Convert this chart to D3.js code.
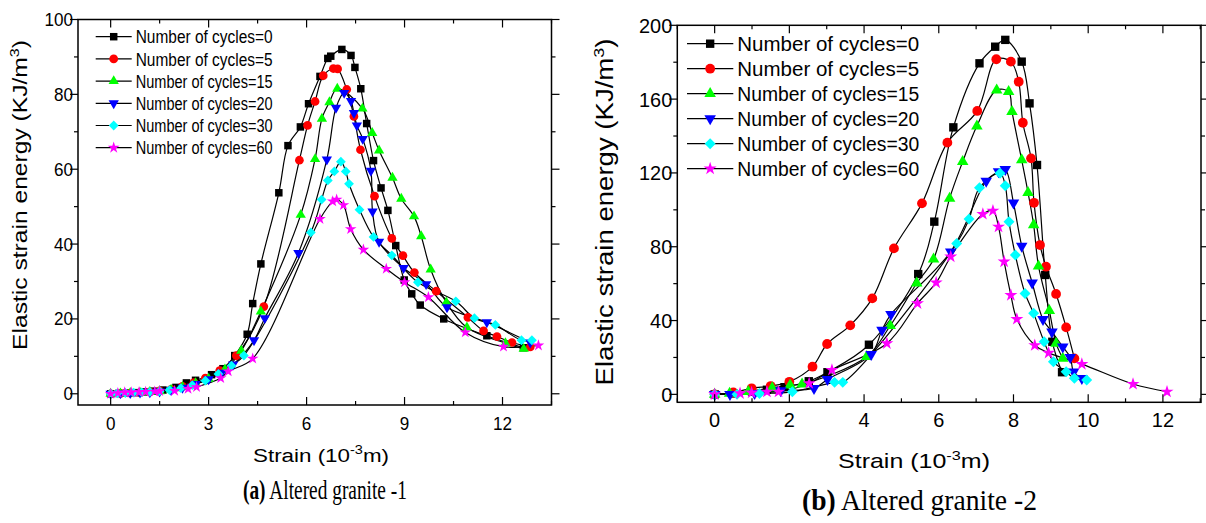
<!DOCTYPE html>
<html>
<head>
<meta charset="utf-8">
<script src="https://cdn.jsdelivr.net/npm/d3@7"></script>
<style>
  body { margin: 0; background: #fff; }
  svg { display: block; }
  text { font-family: Arial, "Liberation Sans", sans-serif; fill: #000; }
  .caption { font-family: "Times New Roman", "Liberation Serif", serif; }
</style>
</head>
<body>
<div id="chart"></div>
<script>
// Legend entries and marker colours (one per number of freeze-thaw cycles)
const cycleLabels = ["Number of cycles=0", "Number of cycles=5", "Number of cycles=15",
                     "Number of cycles=20", "Number of cycles=30", "Number of cycles=60"];
const cycleColors = ["#000000", "#ff0000", "#00ff00", "#0000ff", "#00ffff", "#ff00ff"];

// Tick values
const ticksA = { x: [0, 3, 6, 9, 12], xMinor: [-1.5, 1.5, 4.5, 7.5, 10.5, 13.5], y: [0, 20, 40, 60, 80, 100], yMinor: [10, 30, 50, 70, 90] };
const ticksB = { x: [0, 2, 4, 6, 8, 10, 12], xMinor: [-1, 1, 3, 5, 7, 9, 11, 13], y: [0, 40, 80, 120, 160, 200], yMinor: [20, 60, 100, 140, 180] };

// (a) Altered granite -1 : [strain (10^-3), elastic strain energy (kJ/m3)]
const a0 = [[0,0],[0.25,0.1],[0.5,0.2],[0.75,0.3],[1.0,0.5],[1.3,0.7],[1.6,1.0],[2.0,1.7],[2.32,2.9],[2.6,3.6],[3.09,5.1],[3.44,6.7],[3.8,10.2],[4.18,15.9],[4.35,24.1],[4.6,34.7],[5.15,53.7],[5.43,66.3],[5.81,71.3],[6.06,77.5],[6.41,84.8],[6.65,89.6],[6.74,90.2],[7.08,92.0],[7.36,90.4],[7.48,87.2],[7.66,81.5],[7.84,72.2],[8.05,62.3],[8.28,55.0],[8.49,49.0],[8.73,39.6],[8.99,30.4],[9.22,26.7],[9.48,23.7],[10.2,20.0],[11.52,15.5],[12.64,12.3]];
const a5c = [[0,0],[0.3,0.1],[0.6,0.2],[0.9,0.3],[1.2,0.5],[1.5,0.8],[1.85,1.2],[2.2,2.0],[2.55,3.0],[2.9,4.2],[3.34,6.2],[3.85,10.2],[4.69,23.3],[5.78,62.4],[6.03,71.7],[6.26,78.1],[6.51,85.0],[6.82,86.9],[6.95,86.8],[7.23,81.3],[7.45,74.1],[7.65,65.2],[8.08,52.8],[8.61,41.5],[8.95,36.9],[9.3,32.4],[9.97,27.4],[10.94,20.4],[11.42,16.8],[11.83,15.3],[12.29,13.7],[12.85,12.5]];
const a15 = [[0,0],[0.3,0.1],[0.6,0.2],[0.9,0.3],[1.2,0.5],[1.5,0.7],[1.85,1.1],[2.2,1.8],[2.6,2.8],[3.0,4.0],[3.5,6.5],[4.0,11.5],[4.6,22.0],[5.82,47.8],[6.26,62.7],[6.47,73.5],[6.7,77.9],[6.94,81.5],[7.71,76.2],[8.01,69.7],[8.22,65.0],[8.63,57.7],[8.9,52.1],[9.29,47.4],[9.51,42.1],[9.8,33.2],[10.28,24.4],[10.91,17.7],[12.09,13.5],[12.65,12.0]];
const a20 = [[0,0],[0.3,0.1],[0.6,0.2],[0.9,0.3],[1.2,0.4],[1.5,0.6],[1.85,1.0],[2.2,1.6],[2.6,2.6],[3.0,3.9],[3.4,5.6],[3.75,7.8],[4.39,14.3],[4.72,20.2],[5.75,37.6],[6.62,62.6],[6.9,76.4],[7.15,80.4],[7.36,78.2],[7.45,75.0],[7.54,71.7],[7.72,68.1],[7.97,59.6],[8.02,48.7],[8.22,40.6],[8.97,33.6],[9.66,29.3],[10.3,23.1],[11.52,19.1],[12.85,13.7]];
const a30 = [[0,0],[0.2,0.1],[0.45,0.2],[0.7,0.3],[0.95,0.4],[1.2,0.5],[1.5,0.7],[1.8,1.0],[2.15,1.5],[2.5,2.3],[2.9,3.5],[3.3,5.3],[3.7,7.5],[4.08,10.2],[6.13,43.1],[6.46,51.9],[6.65,57.0],[6.85,59.4],[7.05,62.0],[7.2,59.4],[7.3,56.1],[7.62,49.2],[8.05,41.9],[8.61,37.0],[9.41,29.8],[10.57,24.7],[11.14,20.2],[11.78,18.4],[12.58,14.3],[12.9,14.3]];
const a60 = [[0,0],[0.22,0.2],[0.43,0.35],[0.63,0.35],[0.87,0.45],[1.07,0.5],[1.35,0.6],[1.5,0.7],[1.96,0.8],[2.37,1.3],[2.63,1.8],[3.37,4.2],[3.6,6.0],[4.35,9.4],[6.41,46.7],[6.8,51.4],[6.92,51.9],[7.13,50.4],[7.35,44.0],[7.74,38.5],[8.44,33.4],[9.0,29.8],[9.73,25.8],[10.86,16.4],[12.03,12.6],[13.1,12.9]];

// (b) Altered granite -2
const b0 = [[0,0],[0.5,0.5],[1.0,1.5],[1.4,2.5],[1.87,3.9],[2.52,7.1],[3.02,12.0],[4.13,26.9],[5.45,65.2],[5.88,93.6],[6.39,144.7],[7.09,179.4],[7.51,188.4],[7.78,192.1],[8.22,180.3],[8.43,157.7],[8.63,124.3],[8.85,64.7],[9.04,28.5],[9.3,12.0]];
const b5c = [[0,0],[0.5,1.0],[0.99,3.3],[1.5,4.5],[2.0,6.8],[2.62,15.0],[3.01,27.3],[3.63,37.4],[4.22,52.0],[4.8,79.1],[5.55,103.5],[6.23,136.4],[7.03,153.6],[7.54,181.6],[7.93,180.3],[8.14,169.4],[8.25,147.2],[8.47,127.9],[8.55,103.8],[8.71,80.9],[8.87,69.2],[9.14,54.4],[9.41,36.3],[9.63,19.5]];
const b15 = [[0,0],[0.4,0.5],[0.9,1.5],[1.54,3.5],[2.02,5.0],[2.34,5.5],[4.07,20.4],[4.7,37.2],[5.41,60.2],[5.86,73.2],[6.29,106.2],[6.64,126.1],[7.02,145.4],[7.55,164.9],[7.87,164.0],[7.96,153.2],[8.22,127.0],[8.39,109.3],[8.54,91.8],[8.67,69.5],[8.96,45.3],[9.14,27.6],[9.32,19.5]];
const b20 = [[0,0],[0.41,0.0],[1.07,0.5],[1.77,2.0],[2.66,3.3],[3.02,8.1],[4.19,21.7],[4.48,34.9],[4.72,43.4],[6.32,77.3],[7.27,115.6],[7.6,120.7],[7.78,121.9],[8.0,103.8],[8.22,80.4],[8.5,60.5],[8.79,40.6],[9.03,33.9],[9.32,25.8],[9.52,20.1],[9.61,12.2],[9.83,8.7]];
const b30 = [[0,0],[0.6,0.0],[1.2,0.5],[2.08,1.4],[3.21,6.5],[3.43,6.5],[6.48,81.8],[6.81,95.0],[7.09,112.0],[7.64,119.8],[7.78,113.1],[7.88,93.6],[8.05,75.5],[8.31,54.7],[8.54,43.9],[8.82,28.5],[9.07,17.7],[9.41,12.2],[9.63,8.7],[9.96,7.8]];
const b60 = [[0,0],[0.68,0.5],[0.99,0.9],[1.4,1.4],[1.71,1.4],[2.53,6.0],[3.14,13.2],[4.61,27.6],[5.43,49.3],[5.93,60.5],[6.32,74.6],[7.18,97.7],[7.45,99.5],[7.6,90.8],[7.75,71.9],[7.93,53.8],[8.09,40.8],[8.57,26.6],[8.94,22.5],[9.83,16.4],[11.2,5.6],[12.11,1.4]];


/*******************************/
/*    Layout of both panels    */
/*******************************/
const width = 1206;
const height = 523;

const panels = [
  { series: [a0, a5c, a15, a20, a30, a60], ticks: ticksA,
    box: { left: 78, right: 551.5, top: 19.5, bottom: 405 },
    xDomain: [-1, 13.5], yDomain: [-3, 100],
    tickFont: 18, tickSx: 0.95, markScale: 1,
    legend: { x: 95.7, y: 36.7, step: 22.2, lineLen: 36, font: 18.5, textWidth: 137 },
    yTitle: { x: 27, y: 195, font: 21, length: 310 },
    xTitle: { x: 321, y: 462, font: 19, width: 136 },
    caption: { x: 243, y: 499, font: 27, width: 164, tag: "(a)", text: " Altered granite -1" } },
  { series: [b0, b5c, b15, b20, b30, b60], ticks: ticksB,
    box: { left: 677.3, right: 1201, top: 25.3, bottom: 402.3 },
    xDomain: [-1, 13.02], yDomain: [-4.3, 200],
    tickFont: 21, tickSx: 0.95, markScale: 1.12,
    legend: { x: 687, y: 43.7, step: 25, lineLen: 46.3, font: 20, textWidth: 182 },
    yTitle: { x: 613, y: 212, font: 23, length: 347 },
    xTitle: { x: 914, y: 468, font: 21, width: 152 },
    caption: { x: 802, y: 510, font: 29, width: 235, tag: "(b)", text: " Altered granite -2" } }
];

const symbolTypes = [d3.symbolSquare, d3.symbolCircle, d3.symbolTriangle, d3.symbolTriangle, d3.symbolSquare, d3.symbolStar];
const symbolSizes = [56, 60, 46, 46, 48, 42];
const symbolRotate = [0, 0, 0, 180, 45, 0];

const svg = d3.select("#chart")
  .append("svg")
    .attr("width", width)
    .attr("height", height)
    .attr("viewBox", `0 0 ${width} ${height}`);

svg.append("rect").attr("width", width).attr("height", height).attr("fill", "#fff");

// Draw one marker of series i at (x, y)
const drawMarker = (g, i, x, y, k) => {
  g.append("path")
    .attr("d", d3.symbol().type(symbolTypes[i]).size(symbolSizes[i] * k * k)())
    .attr("transform", `translate(${x},${y}) rotate(${symbolRotate[i]})`)
    .attr("fill", cycleColors[i]);
};

// Horizontal factor that makes a text cover the width measured on the reference
const fitWidth = (text, targetWidth) => targetWidth / text.node().getComputedTextLength();

panels.forEach(p => {
  const { box } = p;
  const xScale = d3.scaleLinear().domain(p.xDomain).range([box.left, box.right]);
  const yScale = d3.scaleLinear().domain(p.yDomain).range([box.bottom, box.top]);
  const chart = svg.append("g");

  // Curves (smoothed like the original spline connection)
  const lineGenerator = d3.line()
    .x(d => xScale(d[0]))
    .y(d => yScale(d[1]))
    .curve(d3.curveCatmullRom.alpha(0.5));

  p.series.forEach(s => {
    chart.append("path")
      .attr("d", lineGenerator(s))
      .attr("fill", "none")
      .attr("stroke", "#000")
      .attr("stroke-width", 1.2);
  });

  // Markers, later cycles on top
  p.series.forEach((s, i) => {
    const g = chart.append("g");
    s.forEach(d => drawMarker(g, i, xScale(d[0]), yScale(d[1]), p.markScale));
  });

  // Frame with mirrored ticks
  const frame = chart.append("g").attr("stroke", "#000").attr("fill", "none");
  frame.append("rect")
    .attr("x", box.left).attr("y", box.top)
    .attr("width", box.right - box.left).attr("height", box.bottom - box.top)
    .attr("stroke-width", 1.5);

  const tickMarks = (values, len, inner) => {
    values.forEach(v => {
      const x = xScale(v);
      if (x < box.left - 0.5 || x > box.right + 0.5) return;
      frame.append("line").attr("x1", x).attr("x2", x).attr("y1", box.bottom - inner).attr("y2", box.bottom + len - inner);
      frame.append("line").attr("x1", x).attr("x2", x).attr("y1", box.top - len + inner).attr("y2", box.top + inner);
    });
  };
  const yTickMarks = (values, len, inner) => {
    values.forEach(v => {
      const y = yScale(v);
      frame.append("line").attr("y1", y).attr("y2", y).attr("x1", box.left - len + inner).attr("x2", box.left + inner);
      frame.append("line").attr("y1", y).attr("y2", y).attr("x1", box.right - inner).attr("x2", box.right + len - inner);
    });
  };
  tickMarks(p.ticks.x, 8, 8);
  tickMarks(p.ticks.xMinor, 4, 4);
  yTickMarks(p.ticks.y, 8, 0);
  yTickMarks(p.ticks.yMinor, 4, 0);
  frame.selectAll("line").attr("stroke-width", 1.2);

  // Tick labels
  p.ticks.x.forEach(v => {
    chart.append("g")
      .attr("transform", `translate(${xScale(v)},${box.bottom + 25}) scale(${p.tickSx},1)`)
      .append("text")
        .attr("text-anchor", "middle")
        .style("font-size", `${p.tickFont}px`)
        .text(v);
  });
  p.ticks.y.forEach(v => {
    chart.append("g")
      .attr("transform", `translate(${box.left - 5},${yScale(v) + p.tickFont * 0.36}) scale(${p.tickSx},1)`)
      .append("text")
        .attr("text-anchor", "end")
        .style("font-size", `${p.tickFont}px`)
        .text(v);
  });

  // Legend
  const L = p.legend;
  cycleLabels.forEach((label, i) => {
    const y = L.y + i * L.step;
    chart.append("line")
      .attr("x1", L.x).attr("x2", L.x + L.lineLen)
      .attr("y1", y).attr("y2", y)
      .attr("stroke", "#000").attr("stroke-width", 1.2);
    drawMarker(chart, i, L.x + L.lineLen / 2, y, p.markScale);
    const g = chart.append("g");
    const t = g.append("text")
      .style("font-size", `${L.font}px`)
      .text(label);
    const sx = fitWidth(t, L.textWidth);
    g.attr("transform", `translate(${L.x + L.lineLen + 4},${y + L.font * 0.36}) scale(${sx},1)`);
  });

  // Y axis title
  const yt = chart.append("g");
  const ytText = yt.append("text")
    .attr("text-anchor", "middle")
    .style("font-size", `${p.yTitle.font}px`);
  ytText.append("tspan").text("Elastic strain energy (KJ/m");
  ytText.append("tspan").attr("dy", -p.yTitle.font * 0.4).style("font-size", `${p.yTitle.font * 0.65}px`).text("3");
  ytText.append("tspan").attr("dy", p.yTitle.font * 0.4).text(")");
  const sy = p.yTitle.length / ytText.node().getComputedTextLength();
  yt.attr("transform", `translate(${p.yTitle.x},${p.yTitle.y}) scale(1,${sy}) rotate(-90)`);

  // X axis title
  const xt = chart.append("g");
  const xtText = xt.append("text")
    .attr("text-anchor", "middle")
    .style("font-size", `${p.xTitle.font}px`);
  xtText.append("tspan").text("Strain (10");
  xtText.append("tspan").attr("dy", -p.xTitle.font * 0.4).style("font-size", `${p.xTitle.font * 0.65}px`).text("-3");
  xtText.append("tspan").attr("dy", p.xTitle.font * 0.4).text("m)");
  xt.attr("transform", `translate(${p.xTitle.x},${p.xTitle.y}) scale(${fitWidth(xtText, p.xTitle.width)},1)`);

  // Caption under the panel
  const cg = chart.append("g");
  const ct = cg.append("text")
    .attr("class", "caption")
    .style("font-size", `${p.caption.font}px`);
  ct.append("tspan").attr("font-weight", "bold").text(p.caption.tag);
  ct.append("tspan").text(p.caption.text);
  cg.attr("transform", `translate(${p.caption.x},${p.caption.y}) scale(${fitWidth(ct, p.caption.width)},1)`);
});
</script>
</body>
</html>
